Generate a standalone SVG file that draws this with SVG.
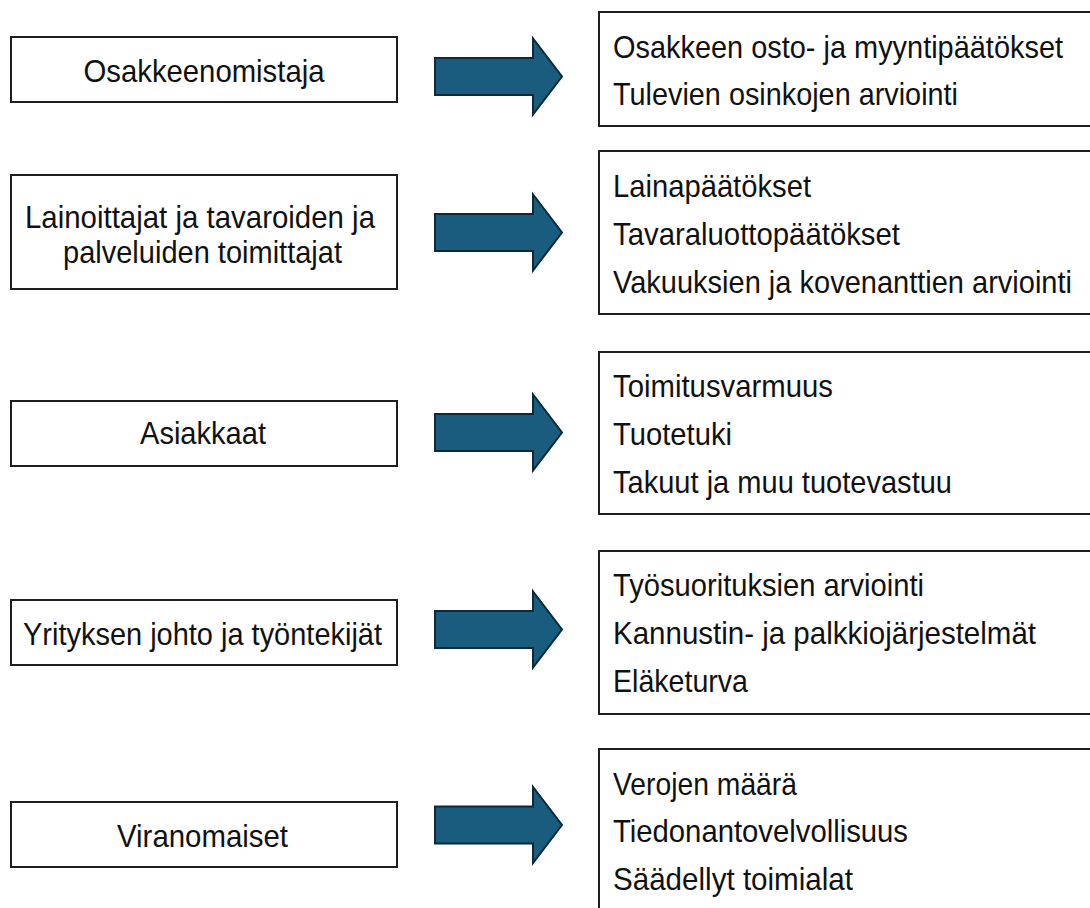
<svg xmlns="http://www.w3.org/2000/svg" width="1090" height="908" viewBox="0 0 1090 908">
<style>
.box{fill:#ffffff;stroke:#1e1e1e;stroke-width:2}
.t{font-family:"Liberation Sans",Arial,sans-serif;font-size:32px;fill:#111111}
.c{text-anchor:middle}
.arr{fill:#1a5c7d;stroke:#0b2a3a;stroke-width:2;stroke-linejoin:miter}
</style>
<defs>
<path id="arrow" d="M0,-18.5 L98,-18.5 L98,-38 L127,0 L98,38 L98,18.5 L0,18.5 Z"/>
</defs>
<rect width="1090" height="908" fill="#ffffff"/>

<g id="stakeholder-1">
<rect class="box" x="11" y="37" width="386" height="65"/>
<text class="t c" x="204" y="82" textLength="241" lengthAdjust="spacingAndGlyphs">Osakkeenomistaja</text>
</g>
<g id="stakeholder-2">
<rect class="box" x="11" y="175" width="386" height="114"/>
<text class="t c" x="200" y="228" textLength="350" lengthAdjust="spacingAndGlyphs">Lainoittajat ja tavaroiden ja</text>
<text class="t c" x="202.5" y="263" textLength="279" lengthAdjust="spacingAndGlyphs">palveluiden toimittajat</text>
</g>
<g id="stakeholder-3">
<rect class="box" x="11" y="401" width="386" height="65"/>
<text class="t c" x="203" y="444" textLength="126" lengthAdjust="spacingAndGlyphs">Asiakkaat</text>
</g>
<g id="stakeholder-4">
<rect class="box" x="11" y="600" width="386" height="65"/>
<text class="t c" x="202.5" y="645" textLength="359" lengthAdjust="spacingAndGlyphs">Yrityksen johto ja työntekijät</text>
</g>
<g id="stakeholder-5">
<rect class="box" x="11" y="802" width="386" height="65"/>
<text class="t c" x="202.5" y="847" textLength="171" lengthAdjust="spacingAndGlyphs">Viranomaiset</text>
</g>

<g id="connectors">
<use href="#arrow" class="arr" transform="translate(435,76.5)"/>
<use href="#arrow" class="arr" transform="translate(435,232.5)"/>
<use href="#arrow" class="arr" transform="translate(435,432.5)"/>
<use href="#arrow" class="arr" transform="translate(435,629.5)"/>
<use href="#arrow" class="arr" transform="translate(435,825)"/>
</g>

<g id="uses-1">
<rect class="box" x="599" y="12" width="520" height="114"/>
<text class="t" x="613" y="58" textLength="450" lengthAdjust="spacingAndGlyphs">Osakkeen osto- ja myyntipäätökset</text>
<text class="t" x="613" y="105" textLength="345" lengthAdjust="spacingAndGlyphs">Tulevien osinkojen arviointi</text>
</g>
<g id="uses-2">
<rect class="box" x="599" y="151" width="520" height="163"/>
<text class="t" x="613" y="197" textLength="198" lengthAdjust="spacingAndGlyphs">Lainapäätökset</text>
<text class="t" x="613" y="245" textLength="287" lengthAdjust="spacingAndGlyphs">Tavaraluottopäätökset</text>
<text class="t" x="613" y="293" textLength="459" lengthAdjust="spacingAndGlyphs">Vakuuksien ja kovenanttien arviointi</text>
</g>
<g id="uses-3">
<rect class="box" x="599" y="352" width="520" height="162"/>
<text class="t" x="613" y="397" textLength="220" lengthAdjust="spacingAndGlyphs">Toimitusvarmuus</text>
<text class="t" x="613" y="445" textLength="119" lengthAdjust="spacingAndGlyphs">Tuotetuki</text>
<text class="t" x="613" y="493" textLength="339" lengthAdjust="spacingAndGlyphs">Takuut ja muu tuotevastuu</text>
</g>
<g id="uses-4">
<rect class="box" x="599" y="551" width="520" height="163"/>
<text class="t" x="613" y="596" textLength="311" lengthAdjust="spacingAndGlyphs">Työsuorituksien arviointi</text>
<text class="t" x="613" y="644" textLength="423" lengthAdjust="spacingAndGlyphs">Kannustin- ja palkkiojärjestelmät</text>
<text class="t" x="613" y="692" textLength="135" lengthAdjust="spacingAndGlyphs">Eläketurva</text>
</g>
<g id="uses-5">
<rect class="box" x="599" y="749" width="520" height="200"/>
<text class="t" x="613" y="795" textLength="184" lengthAdjust="spacingAndGlyphs">Verojen määrä</text>
<text class="t" x="613" y="842" textLength="295" lengthAdjust="spacingAndGlyphs">Tiedonantovelvollisuus</text>
<text class="t" x="613" y="890" textLength="240" lengthAdjust="spacingAndGlyphs">Säädellyt toimialat</text>
</g>
</svg>
